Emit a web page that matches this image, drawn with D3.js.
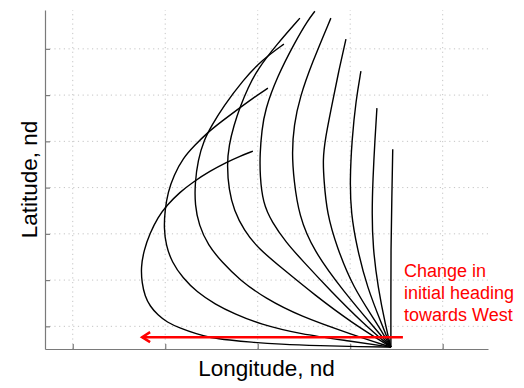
<!DOCTYPE html>
<html>
<head>
<meta charset="utf-8">
<script src="https://cdn.jsdelivr.net/npm/d3@7"></script>
<style>
  body { margin: 0; background: #fff; }
  svg { display: block; }
</style>
</head>
<body>
<svg id="chart"></svg>
<script>
// tick positions (no labels on the reference)
const xTicks = [-3.44, -2.44, -1.44, -0.44, 0.56];
const yTicks = [0.225, 0.725, 1.225, 1.725, 2.225, 2.725, 3.225];

// trajectories, initial heading from North (0) to West (90), [lon, lat]
const headings = [0, 10, 20, 30, 40, 50, 60, 70, 80, 90];
const track0 = [[0, 0], [0, 0.51], [0.00, 1.05], [0.01, 1.59], [0.02, 2.14]];
const track10 = [[0, 0], [-0.054, 0.216], [-0.141, 0.649], [-0.195, 1.081], [-0.205, 1.449],
  [-0.195, 1.805], [-0.173, 2.238], [-0.151, 2.584]];
const track20 = [[0, 0], [-0.086, 0.216], [-0.259, 0.649], [-0.368, 1.081], [-0.432, 1.449],
  [-0.443, 1.805], [-0.422, 2.238], [-0.378, 2.670], [-0.324, 2.984]];
const track30 = [[0, 0], [-0.151, 0.259], [-0.411, 0.649], [-0.584, 1.081], [-0.692, 1.449],
  [-0.724, 1.805], [-0.735, 2.022], [-0.714, 2.238], [-0.627, 2.670], [-0.562, 2.995], [-0.486, 3.330]];
const track40 = [[0, 0], [-0.184, 0.216], [-0.497, 0.584], [-0.843, 1.049], [-0.995, 1.427],
  [-1.049, 1.805], [-1.070, 2.097], [-1.049, 2.400], [-0.984, 2.703], [-0.854, 3.070], [-0.649, 3.557]];
const track50 = [[0, 0], [-0.303, 0.259], [-0.659, 0.616], [-0.962, 0.941], [-1.135, 1.135],
  [-1.286, 1.351], [-1.384, 1.557], [-1.416, 1.859], [-1.416, 2.097], [-1.395, 2.346],
  [-1.362, 2.562], [-1.232, 2.919], [-1.038, 3.297], [-0.897, 3.535], [-0.822, 3.632]];
const track60 = [[0, 0], [-0.432, 0.270], [-0.822, 0.562], [-1.178, 0.854], [-1.438, 1.070],
  [-1.589, 1.265], [-1.697, 1.481], [-1.751, 1.697], [-1.773, 1.968], [-1.751, 2.184],
  [-1.697, 2.400], [-1.632, 2.595], [-1.546, 2.800], [-1.449, 2.995], [-1.232, 3.276], [-0.984, 3.557]];
const track70 = [[0, 0], [-0.432, 0.141], [-0.984, 0.335], [-1.362, 0.530], [-1.632, 0.724],
  [-1.827, 0.919], [-1.978, 1.103], [-2.076, 1.319], [-2.119, 1.535], [-2.119, 1.773],
  [-2.086, 2.022], [-2.022, 2.238], [-1.935, 2.400], [-1.816, 2.595], [-1.600, 2.886],
  [-1.395, 3.103], [-1.157, 3.276]];
const track80 = [[0, 0], [-0.432, 0.065], [-0.984, 0.141], [-1.416, 0.249], [-1.686, 0.357],
  [-1.903, 0.465], [-2.097, 0.595], [-2.249, 0.746], [-2.368, 0.919], [-2.432, 1.103],
  [-2.454, 1.286], [-2.443, 1.481], [-2.411, 1.676], [-2.346, 1.859], [-2.249, 2.043],
  [-2.119, 2.184], [-1.989, 2.314], [-1.827, 2.443], [-1.654, 2.573], [-1.492, 2.692], [-1.330, 2.800]];
const track90 = [[0, 0], [-0.335, 0.005], [-0.768, 0.016], [-1.200, 0.032], [-1.524, 0.054],
  [-1.741, 0.076], [-1.957, 0.103], [-2.097, 0.141], [-2.281, 0.205], [-2.422, 0.270],
  [-2.519, 0.346], [-2.605, 0.443], [-2.659, 0.551], [-2.692, 0.692], [-2.703, 0.865],
  [-2.670, 1.049], [-2.605, 1.232], [-2.519, 1.405], [-2.422, 1.535], [-2.281, 1.676],
  [-2.141, 1.784], [-1.957, 1.903], [-1.773, 2.000], [-1.632, 2.065], [-1.492, 2.119]];
const tracks = [track0, track10, track20, track30, track40, track50, track60, track70, track80, track90];

// red arrow (start, tip) and note
const arrowFrom = [0.13, 0.108];
const arrowTo = [-2.69, 0.108];
const noteLines = ["Change in", "initial heading", "towards West"];

const width = 524;
const height = 388;
const svg = d3.select("#chart").attr("width", width).attr("height", height);

const x = d3.scaleLinear().domain([-3.74, 1.05]).range([45, 488]);
const y = d3.scaleLinear().domain([-0.02, 3.645]).range([349, 10]);

// gridlines
svg.append("g")
    .selectAll("line")
    .data(xTicks)
    .enter()
    .append("line")
    .attr("x1", d => x(d)).attr("x2", d => x(d))
    .attr("y1", y.range()[0]).attr("y2", y.range()[1])
    .attr("stroke", "#c4c4c4")
    .attr("stroke-dasharray", "1.2,3.5");
svg.append("g")
    .selectAll("line")
    .data(yTicks)
    .enter()
    .append("line")
    .attr("y1", d => y(d)).attr("y2", d => y(d))
    .attr("x1", x.range()[0]).attr("x2", x.range()[1])
    .attr("stroke", "#c4c4c4")
    .attr("stroke-dasharray", "1.2,3.5");

// axes, ticks inward, no labels
const xAxis = svg.append("g")
    .attr("transform", "translate(0," + y.range()[0] + ")")
    .call(d3.axisBottom(x).tickValues(xTicks).tickSize(-5).tickSizeOuter(0).tickFormat(""));
const yAxis = svg.append("g")
    .attr("transform", "translate(" + x.range()[0] + ",0)")
    .call(d3.axisLeft(y).tickValues(yTicks).tickSize(-5).tickSizeOuter(0).tickFormat(""));
[xAxis, yAxis].forEach(a => {
    a.selectAll("path, line").attr("stroke", "#7a7a7a").attr("stroke-width", 1.2);
});

// trajectories (basis spline to smooth the read-off points)
const line = d3.line()
    .x(d => x(d[0]))
    .y(d => y(d[1]))
    .curve(d3.curveBasis);

svg.append("g")
    .selectAll("path")
    .data(tracks)
    .enter()
    .append("path")
    .attr("d", line)
    .attr("fill", "none")
    .attr("stroke", "#000")
    .attr("stroke-width", 1.4);

// arrow
svg.append("line")
    .attr("x1", x(arrowFrom[0])).attr("y1", y(arrowFrom[1]))
    .attr("x2", x(arrowTo[0])).attr("y2", y(arrowTo[1]))
    .attr("stroke", "#ff0000")
    .attr("stroke-width", 2.5);
svg.append("path")
    .attr("d", "M" + (x(arrowTo[0]) + 8) + "," + (y(arrowTo[1]) - 5) +
        "L" + x(arrowTo[0]) + "," + y(arrowTo[1]) +
        "L" + (x(arrowTo[0]) + 8) + "," + (y(arrowTo[1]) + 5))
    .attr("fill", "none")
    .attr("stroke", "#ff0000")
    .attr("stroke-width", 2.5);

svg.append("g")
    .selectAll("text")
    .data(noteLines)
    .enter()
    .append("text")
    .attr("x", 404)
    .attr("y", (d, i) => 277 + i * 22)
    .attr("fill", "#ff0000")
    .style("font-family", "Liberation Sans, Arial, sans-serif")
    .style("font-size", "18px")
    .text(d => d);

// axis titles
svg.append("text")
    .attr("x", (x.range()[0] + x.range()[1]) / 2)
    .attr("y", 376)
    .style("text-anchor", "middle")
    .style("font-family", "Liberation Sans, Arial, sans-serif")
    .style("font-size", "22.5px")
    .text("Longitude, nd");
svg.append("text")
    .attr("transform", "rotate(-90)")
    .attr("x", -(y.range()[0] + y.range()[1]) / 2)
    .attr("y", 37)
    .style("text-anchor", "middle")
    .style("font-family", "Liberation Sans, Arial, sans-serif")
    .style("font-size", "22.5px")
    .text("Latitude, nd");
</script>
</body>
</html>
